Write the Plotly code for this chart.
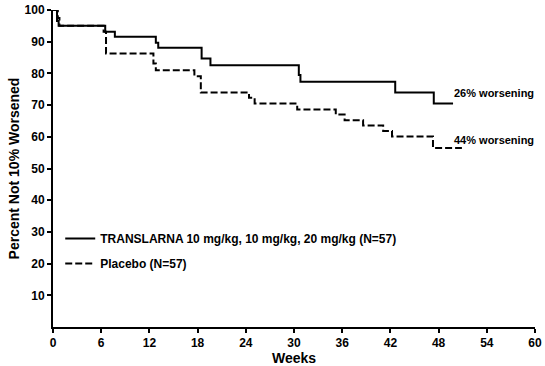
import plotly.graph_objects as go

# Kaplan-Meier style step data (weeks, percent not 10% worsened)
translarna_weeks = [0, 0.5, 0.7, 6.5, 7.7, 12.8, 13.1, 18.5, 19.6, 30.6, 30.8, 42.6, 47.4, 49.8]
translarna_pct = [100, 96.5, 95.0, 93.1, 91.6, 89.7, 88.1, 84.7, 82.6, 79.5, 77.4, 74.0, 70.5, 70.5]

placebo_weeks = [0, 0.6, 0.8, 6.3, 6.6, 12.5, 12.8, 17.6, 18.4, 24.4, 25.1, 30.4, 35.2, 36.3,
                 38.6, 41.1, 42.2, 47.3, 50.9]
placebo_pct = [100, 97.5, 95.0, 93.1, 86.3, 83.1, 81.0, 79.1, 74.0, 72.3, 70.5, 68.6, 67.0, 65.2,
               63.6, 61.8, 60.1, 56.5, 56.5]

x_ticks = [0, 6, 12, 18, 24, 30, 36, 42, 48, 54, 60]
y_ticks = [10, 20, 30, 40, 50, 60, 70, 80, 90, 100]

series_names = ["TRANSLARNA 10 mg/kg, 10 mg/kg, 20 mg/kg (N=57)", "Placebo (N=57)"]
end_labels = ["26% worsening", "44% worsening"]

FONT = "Liberation Sans, Arial, Helvetica, sans-serif"

fig = go.Figure()
fig.add_trace(go.Scatter(
    x=translarna_weeks, y=translarna_pct, mode="lines", line_shape="hv",
    line=dict(color="black", width=2), name=series_names[0], legendgroup="a"))
fig.add_trace(go.Scatter(
    x=placebo_weeks, y=placebo_pct, mode="lines", line_shape="hv",
    line=dict(color="black", width=2, dash="7px,3px"), name=series_names[1], legendgroup="b"))

fig.add_annotation(x=translarna_weeks[-1] - 0.1, y=translarna_pct[-1] + 3.3, text=end_labels[0],
                   showarrow=False, xanchor="left", yanchor="middle",
                   font=dict(family=FONT, size=11, color="black", weight="bold"))
fig.add_annotation(x=placebo_weeks[-1] - 1.2, y=placebo_pct[-1] + 2.5, text=end_labels[1],
                   showarrow=False, xanchor="left", yanchor="middle",
                   font=dict(family=FONT, size=11, color="black", weight="bold"))

axis_font = dict(family=FONT, size=12, color="black", weight="bold")
fig.update_layout(
    width=545, height=366,
    margin=dict(l=53, r=10, t=10, b=39),
    paper_bgcolor="white", plot_bgcolor="white",
    font=dict(family=FONT, color="black"),
    showlegend=True,
    legend=dict(x=0.015, y=0.325, xanchor="left", yanchor="top",
                font=dict(family=FONT, size=12, color="black", weight="bold"),
                bgcolor="rgba(0,0,0,0)", traceorder="grouped", tracegroupgap=6,
                itemwidth=30),
    xaxis=dict(range=[0, 60], tickvals=x_ticks, ticks="outside", ticklen=4, tickwidth=1.5,
               tickcolor="black", showline=True, linecolor="black", linewidth=2,
               showgrid=False, zeroline=False, tickfont=axis_font, automargin=False,
               title=dict(text="Weeks", standoff=4,
                          font=dict(family=FONT, size=14, color="black", weight="bold"))),
    yaxis=dict(range=[0, 100], tickvals=y_ticks, ticks="outside", ticklen=4, tickwidth=1.5,
               tickcolor="black", showline=True, linecolor="black", linewidth=2,
               showgrid=False, zeroline=False, tickfont=axis_font, automargin=False,
               title=dict(text="Percent Not 10% Worsened", standoff=2,
                          font=dict(family=FONT, size=14, color="black", weight="bold"))),
)

fig.write_html("out.html", config={"displayModeBar": False},
               post_script="document.body.style.margin='0';document.body.style.overflow='hidden';")
